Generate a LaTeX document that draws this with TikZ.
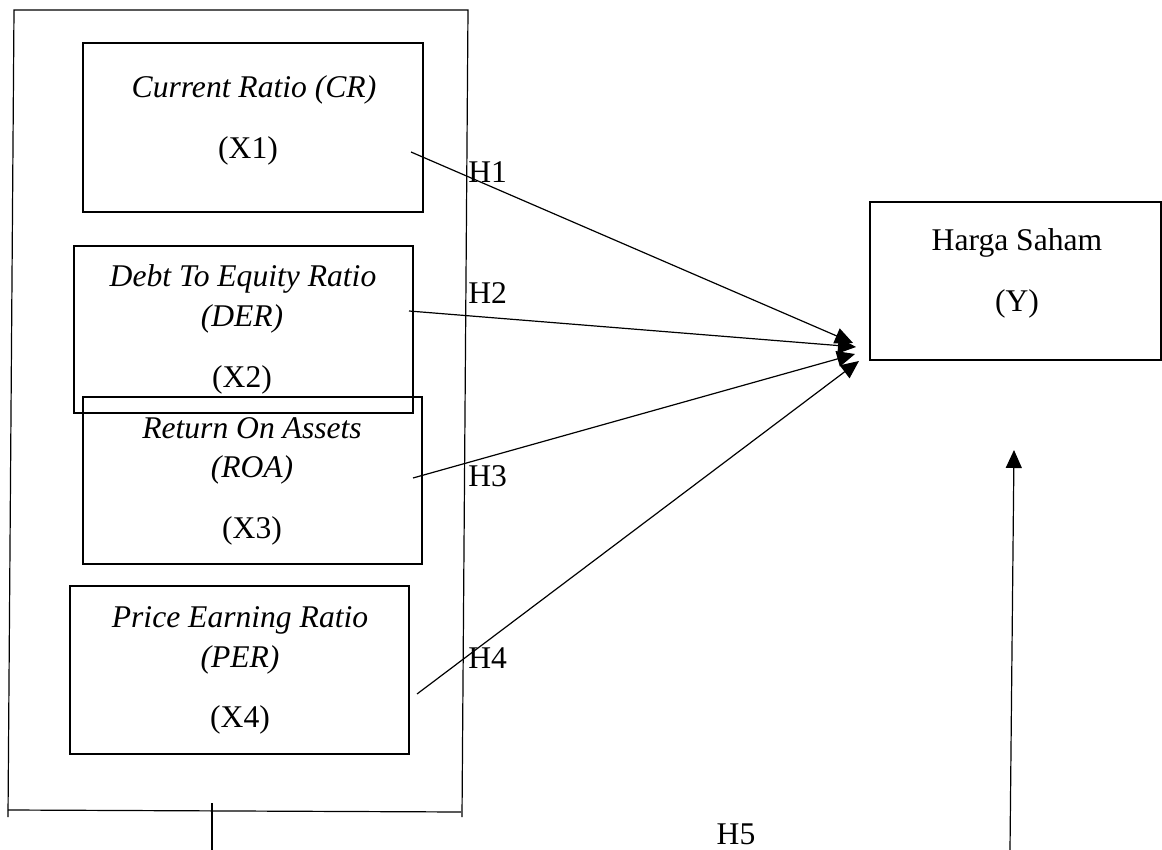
\documentclass[tikz,border=0pt]{standalone}
\usepackage{fontspec}
\setmainfont{Liberation Serif}
\usetikzlibrary{arrows.meta}
\tikzset{
  box/.style={draw, line width=1.1pt, rectangle, inner sep=0pt},
  txt/.style={anchor=base, inner sep=0pt, font=\fontsize{15.8}{19}\selectfont},
  itxt/.style={txt, font=\fontsize{15.8}{19}\selectfont\itshape},
  frameline/.style={line width=0.6pt},
  conn/.style={line width=0.6pt, -{Triangle[length=9pt,width=8pt]}},
}
\begin{document}
\begin{tikzpicture}[x=0.5pt,y=-0.5pt]
\useasboundingbox (0,0) rectangle (1162,850);
% outer frame
\coordinate (f1) at (14,10);
\coordinate (f2) at (468,10);
\coordinate (f3) at (462,817);
\coordinate (f4) at (8,817);
\coordinate (b1) at (8,810);
\coordinate (b2) at (461,812);
\coordinate (m1) at (212,803);
\coordinate (m2) at (212,850);
\draw[frameline] (f4) -- (f1) -- (f2) -- (f3);
\draw[frameline] (b1) -- (b2);
\draw[frameline] (m1) -- (m2);

% boxes
\node[box, minimum width=170pt, minimum height=84.5pt] (x1) at (253,127.5) {};
\node[box, minimum width=169.5pt, minimum height=83.5pt] (x2) at (243.5,329.5) {};
\node[box, minimum width=169.5pt, minimum height=83.5pt] (x3) at (252.5,480.5) {};
\node[box, minimum width=169.5pt, minimum height=84pt] (x4) at (239.5,670) {};
\node[box, minimum width=145.5pt, minimum height=79pt] (y) at (1015.5,281) {};

% texts
\node[itxt] (t1a) at (254,98) {Current Ratio (CR)};
\node[txt] (t1b) at (248,159) {(X1)};
\node[itxt] (t2a) at (243,287) {Debt To Equity Ratio};
\node[itxt] (t2b) at (242,327) {(DER)};
\node[txt] (t2c) at (242,387) {(X2)};
\node[itxt] (t3a) at (252,438) {Return On Assets};
\node[itxt] (t3b) at (252,477) {(ROA)};
\node[txt] (t3c) at (252,538) {(X3)};
\node[itxt] (t4a) at (240,627) {Price Earning Ratio};
\node[itxt] (t4b) at (240,667) {(PER)};
\node[txt] (t4c) at (240,727) {(X4)};
\node[txt] (ya) at (1017,251) {Harga Saham};
\node[txt] (yb) at (1017,312) {(Y)};

% hypothesis labels
\node[txt, anchor=base west] (h1) at (468,183) {H1};
\node[txt, anchor=base west] (h2) at (468,304) {H2};
\node[txt, anchor=base west] (h3) at (468,486) {H3};
\node[txt, anchor=base west] (h4) at (468,668) {H4};
\node[txt] (h5) at (736,844) {H5};

% connectors
\coordinate (s1) at (411,152);
\coordinate (e1) at (853,343);
\coordinate (s2) at (409,311);
\coordinate (e2) at (856,347);
\coordinate (s3) at (413,478);
\coordinate (e3) at (855,354);
\coordinate (s4) at (417,694);
\coordinate (e4) at (859,361);
\coordinate (s5) at (1010,850);
\coordinate (e5) at (1014,450);
\draw[conn] (s1) -- (e1);
\draw[conn] (s2) -- (e2);
\draw[conn] (s3) -- (e3);
\draw[conn] (s4) -- (e4);
\draw[conn] (s5) -- (e5);
\end{tikzpicture}
\end{document}
